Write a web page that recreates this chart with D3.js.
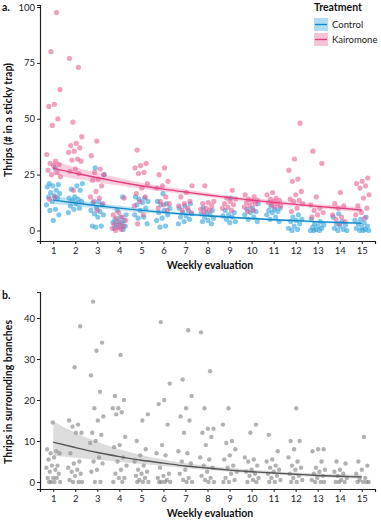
<!DOCTYPE html>
<html>
<head>
<meta charset="utf-8">
<script src="https://cdn.jsdelivr.net/npm/d3@7"></script>
<style>
  html, body { margin: 0; padding: 0; background: #fff; }
  svg text { font-family: Lato, "Noto Sans", sans-serif; }
</style>
</head>
<body>
<div id="chart"></div>
<script>
// weeks 1..15
const weeks = d3.range(1, 16);

// panel a: raw counts per week (Control, Kairomone)
const controlPts = [
  [28, 21, 20.5, 20, 19.5, 18, 17, 16.5, 15.5, 15, 14.5, 13, 11.5, 9.5, 9, 7, 4.5],
  [21, 20, 18.5, 18, 15, 14.5, 14, 13.5, 13, 12, 11, 10, 9.5, 8],
  [28, 25, 13, 12.5, 11.5, 10, 9, 8.5, 7.5, 7, 6, 2, 2, 1.5],
  [15, 9, 7, 6, 5, 4.5, 4, 3.5, 3, 2.5, 2, 1.5, 1, 0.5],
  [15, 14.5, 14, 13, 12.5, 11.5, 10, 9, 7, 6, 5.5, 3],
  [16.5, 13, 12, 11.5, 10, 9, 8, 7, 5.5, 4.5, 2, 1.5],
  [12, 11, 10, 9, 8, 7.5, 6.5, 6, 5, 4, 3],
  [10, 9, 8, 7.5, 7, 6, 5.5, 4.5, 4, 3],
  [14.5, 9, 8, 7, 6.5, 6, 5, 4, 3.5],
  [12, 10, 9.5, 8.5, 8, 7, 6, 5, 4],
  [11, 10, 9.5, 9, 8.5, 8, 7, 6, 5, 4],
  [7, 6, 5, 4.5, 4, 3, 2, 1, 0.5, 0],
  [5, 4, 3, 2.5, 2, 1.5, 1, 0.5, 0, 0, 0],
  [7.5, 6, 4, 3, 2.5, 2, 1, 0.5, 0, 0],
  [6, 5, 4.5, 3.5, 3, 2, 1.5, 1, 0.5, 0, 0, 0]
];
const kairoPts = [
  [97.5, 80, 63, 56.5, 55.5, 50, 47, 34, 31, 30, 29.5, 29, 27, 26, 25, 24, 15, 14],
  [77, 73, 48.5, 42, 39, 38, 37, 35.5, 35, 32, 31.5, 31, 27.5, 26.5, 25.5, 18],
  [40, 33.5, 27.5, 26, 25, 23, 22.5, 20, 17.5, 15, 14.5, 13, 12, 9],
  [14.5, 8, 7, 6, 5.5, 4.5, 3.5, 3, 2, 1.5, 1, 0.5, 0],
  [36, 30, 29, 28, 26, 25.5, 21, 19, 16.5, 15, 13, 11, 7, 3],
  [28, 25, 22, 20, 19, 15, 13, 12, 11.5, 10, 9],
  [20, 17, 15, 13, 12, 11, 10, 9, 8],
  [20, 13, 12.5, 12, 11, 10, 9.5, 9, 8],
  [18, 14.5, 14, 13, 12, 11.5, 10.5, 10, 9],
  [16, 15, 14, 13.5, 13, 12.5, 12, 11, 10.5, 9, 8.5],
  [17, 16, 14.5, 14, 13.5, 13, 12.5, 12, 11.5, 11, 10.5],
  [48, 32, 27, 23, 22, 17.5, 16, 14, 13.5, 13, 12, 10, 8.5],
  [35.5, 30, 15, 11.5, 10, 9, 8, 7, 6],
  [17, 12, 11, 10, 7, 6, 5, 4, 3],
  [23.5, 22, 21, 20, 19, 16, 14.5, 11, 10, 8, 7, 5.5]
];
// panel a: fitted curve and 95% band
const controlFit = [13.6, 12.3, 11.1, 10.0, 9.0, 8.1, 7.3, 6.6, 5.9, 5.4, 4.8, 4.4, 3.9, 3.6, 3.2];
const controlLo  = [11.9, 10.9, 9.9, 9.0, 8.2, 7.4, 6.7, 6.0, 5.4, 4.9, 4.3, 3.9, 3.4, 3.0, 2.7];
const controlHi  = [15.5, 13.9, 12.4, 11.1, 9.9, 8.8, 7.9, 7.2, 6.5, 5.9, 5.3, 4.9, 4.4, 4.1, 3.7];
const kairoFit = [27.9, 25.6, 23.6, 21.7, 20.0, 18.5, 17.2, 15.9, 14.7, 13.6, 12.6, 11.7, 10.8, 10.0, 9.2];
const kairoLo  = [24.9, 23.2, 21.6, 20.1, 18.7, 17.4, 16.2, 15.0, 13.9, 12.8, 11.8, 10.8, 9.9, 9.0, 8.2];
const kairoHi  = [31.2, 28.3, 25.8, 23.5, 21.4, 19.7, 18.3, 16.9, 15.6, 14.5, 13.5, 12.6, 11.8, 11.1, 10.4];

// panel b: thrips in surrounding branches
const branchPts = [
  [14.5, 8, 7.5, 7, 7, 6, 5.5, 4, 4, 3.5, 3, 2.5, 2, 1, 1, 1, 0, 0, 0, 0],
  [38, 28, 15, 14, 13.5, 12, 12, 7, 5, 4.5, 3.5, 3, 2.5, 2, 1.5, 0.5, 0, 0, 0],
  [44, 34, 32, 26, 22, 18, 16, 15, 12, 11.5, 10, 9.5, 6, 5, 4.5, 3, 2.5, 0, 0],
  [31, 21, 20, 18, 18, 17, 16.5, 11, 9, 8.5, 6, 5, 4, 3, 2, 1, 1, 0, 0],
  [16.5, 15, 10, 8, 6.5, 5, 4, 3, 2.5, 2, 1.5, 1, 0.5, 0, 0, 0],
  [39, 24, 20, 19, 14, 9, 7, 6.5, 3.5, 2, 1.5, 1, 0.5, 0, 0, 0, 0],
  [37, 25, 21, 18, 16, 15, 12, 7.5, 7, 5, 4.5, 3, 2, 1, 0.5, 0, 0],
  [36.5, 27, 18, 13, 13, 12, 11, 9, 6, 5.5, 4, 3.5, 2.5, 1.5, 1, 0.5, 0, 0],
  [18, 14, 10, 9.5, 8, 6.5, 5.5, 4, 3.5, 2.5, 2, 1, 0.5, 0, 0],
  [14, 12, 6, 5.5, 5, 4, 3, 2.5, 2, 1.5, 1, 0.5, 0, 0],
  [11.5, 7.5, 5.5, 5, 4, 3.5, 3, 2.5, 2, 1.5, 1, 0.5, 0, 0],
  [18, 10, 10, 8, 6, 5, 4, 3.5, 3, 2, 1.5, 1, 0.5, 0, 0],
  [8, 8, 7.5, 5, 3.5, 3, 2.5, 2, 1.5, 1, 0.5, 0, 0, 0],
  [5, 4.5, 3, 2.5, 2, 1.5, 1, 0.5, 0, 0, 0],
  [11, 5, 4, 3, 2, 1, 0.5, 0, 0, 0, 0]
];
const branchFit = [9.7, 8.4, 7.2, 6.2, 5.3, 4.6, 3.9, 3.4, 2.9, 2.5, 2.2, 1.9, 1.6, 1.4, 1.2];
const branchLo  = [6.4, 5.9, 5.4, 4.9, 4.4, 3.9, 3.4, 2.9, 2.5, 2.1, 1.8, 1.5, 1.2, 1.0, 0.8];
const branchHi  = [14.8, 12.0, 9.8, 8.0, 6.6, 5.5, 4.6, 4.0, 3.4, 3.0, 2.6, 2.3, 2.1, 1.9, 1.8];

const treatments = ["Control", "Kairomone"];

const width = 381, height = 523;
const svg = d3.select("#chart").append("svg")
  .attr("width", width)
  .attr("height", height);

const x = d3.scaleLinear().domain([0.4, 15.6]).range([40, 375]);

// deterministic spread so points don't stack on the week line
const jitter = (i, k) => (((i + 1) * 0.618034 + k * 0.37) % 1 - 0.5) * 0.66;

function flatten(arr, k) {
  const out = [];
  arr.forEach((vals, w) => vals.forEach((v, i) => out.push({ week: weeks[w] + jitter(i, k + w), value: v })));
  return out;
}

function drawAxes(g, y, yTicks, bottom) {
  const xAxis = g.append("g")
    .attr("transform", `translate(0,${bottom})`)
    .call(d3.axisBottom(x).tickValues(weeks).tickSize(3).tickPadding(3));
  const yAxis = g.append("g")
    .attr("transform", "translate(40,0)")
    .call(d3.axisLeft(y).tickValues(yTicks).tickSize(3).tickPadding(2));
  [xAxis, yAxis].forEach(a => {
    a.select(".domain").attr("stroke", "#222").attr("stroke-width", 1.2);
    a.selectAll(".tick line").attr("stroke", "#222");
    a.selectAll(".tick text").attr("fill", "#222").attr("font-size", "9.5px")
      .attr("font-family", "Lato, sans-serif");
  });
}

function fitLayer(g, y, fit, lo, hi, fill, fillOp, stroke) {
  const rows = weeks.map((w, i) => ({ w, f: fit[i], lo: lo[i], hi: hi[i] }));
  g.append("path")
    .datum(rows)
    .attr("fill", fill)
    .attr("fill-opacity", fillOp)
    .attr("d", d3.area().curve(d3.curveMonotoneX).x(d => x(d.w)).y0(d => y(d.lo)).y1(d => y(d.hi)));
  g.append("path")
    .datum(rows)
    .attr("fill", "none")
    .attr("stroke", stroke)
    .attr("stroke-width", 1.4)
    .attr("d", d3.line().curve(d3.curveMonotoneX).x(d => x(d.w)).y(d => y(d.f)));
}

// ---------- panel a ----------
const gA = svg.append("g");
const yA = d3.scaleLinear().domain([-4.7, 100.9]).range([241, 5]);

const colors = { Control: "#1e9ad8", Kairomone: "#e8528d" };
const lineColors = { Control: "#1489cc", Kairomone: "#e23f80" };

gA.selectAll("circle.ctrl")
  .data(flatten(controlPts, 0))
  .enter().append("circle")
  .attr("class", "ctrl")
  .attr("cx", d => x(d.week))
  .attr("cy", d => yA(d.value))
  .attr("r", 2.6)
  .attr("fill", colors.Control)
  .attr("fill-opacity", 0.55);

gA.selectAll("circle.kai")
  .data(flatten(kairoPts, 3))
  .enter().append("circle")
  .attr("class", "kai")
  .attr("cx", d => x(d.week))
  .attr("cy", d => yA(d.value))
  .attr("r", 2.6)
  .attr("fill", colors.Kairomone)
  .attr("fill-opacity", 0.55);

fitLayer(gA, yA, kairoFit, kairoLo, kairoHi, colors.Kairomone, 0.28, lineColors.Kairomone);
fitLayer(gA, yA, controlFit, controlLo, controlHi, colors.Control, 0.28, lineColors.Control);

drawAxes(gA, yA, [0, 25, 50, 75, 100], 241);

gA.append("text")
  .attr("x", 210).attr("y", 269)
  .attr("text-anchor", "middle")
  .attr("font-size", "10.5px").attr("font-weight", "bold")
  .attr("fill", "#111")
  .text("Weekly evaluation");

gA.append("text")
  .attr("transform", "translate(12,120) rotate(-90)")
  .attr("text-anchor", "middle")
  .attr("font-size", "10.5px").attr("font-weight", "bold")
  .attr("fill", "#111")
  .text("Thrips (# in a sticky trap)");

gA.append("text")
  .attr("x", 2).attr("y", 11)
  .attr("font-size", "10.5px").attr("font-weight", "bold")
  .attr("fill", "#111")
  .text("a.");

// legend
const legend = gA.append("g").attr("transform", "translate(314,0)");
legend.append("text")
  .attr("x", 0).attr("y", 11)
  .attr("font-size", "10.5px").attr("font-weight", "bold")
  .attr("fill", "#111")
  .text("Treatment");
treatments.forEach((t, i) => {
  const ky = 18 + i * 15;
  legend.append("rect")
    .attr("x", 0).attr("y", ky)
    .attr("width", 14).attr("height", 13)
    .attr("fill", colors[t]).attr("fill-opacity", 0.35);
  legend.append("line")
    .attr("x1", 1).attr("x2", 13)
    .attr("y1", ky + 6.5).attr("y2", ky + 6.5)
    .attr("stroke", lineColors[t]).attr("stroke-width", 1.4);
  legend.append("text")
    .attr("x", 18).attr("y", ky + 10)
    .attr("font-size", "9.5px")
    .attr("fill", "#222")
    .text(t);
});

// ---------- panel b ----------
const gB = svg.append("g");
const yB = d3.scaleLinear().domain([-1.71, 46.34]).range([489, 292]);

gB.selectAll("circle.br")
  .data(flatten(branchPts, 5))
  .enter().append("circle")
  .attr("class", "br")
  .attr("cx", d => x(d.week))
  .attr("cy", d => yB(d.value))
  .attr("r", 2.2)
  .attr("fill", "#7f7f7f")
  .attr("fill-opacity", 0.6);

fitLayer(gB, yB, branchFit, branchLo, branchHi, "#9a9a9a", 0.35, "#555");

drawAxes(gB, yB, [0, 10, 20, 30, 40], 489);

gB.append("text")
  .attr("x", 210).attr("y", 517)
  .attr("text-anchor", "middle")
  .attr("font-size", "10.5px").attr("font-weight", "bold")
  .attr("fill", "#111")
  .text("Weekly evaluation");

gB.append("text")
  .attr("transform", "translate(12,392) rotate(-90)")
  .attr("text-anchor", "middle")
  .attr("font-size", "10.5px").attr("font-weight", "bold")
  .attr("fill", "#111")
  .text("Thrips in surrounding branches");

gB.append("text")
  .attr("x", 2).attr("y", 299)
  .attr("font-size", "10.5px").attr("font-weight", "bold")
  .attr("fill", "#111")
  .text("b.");
</script>
</body>
</html>
